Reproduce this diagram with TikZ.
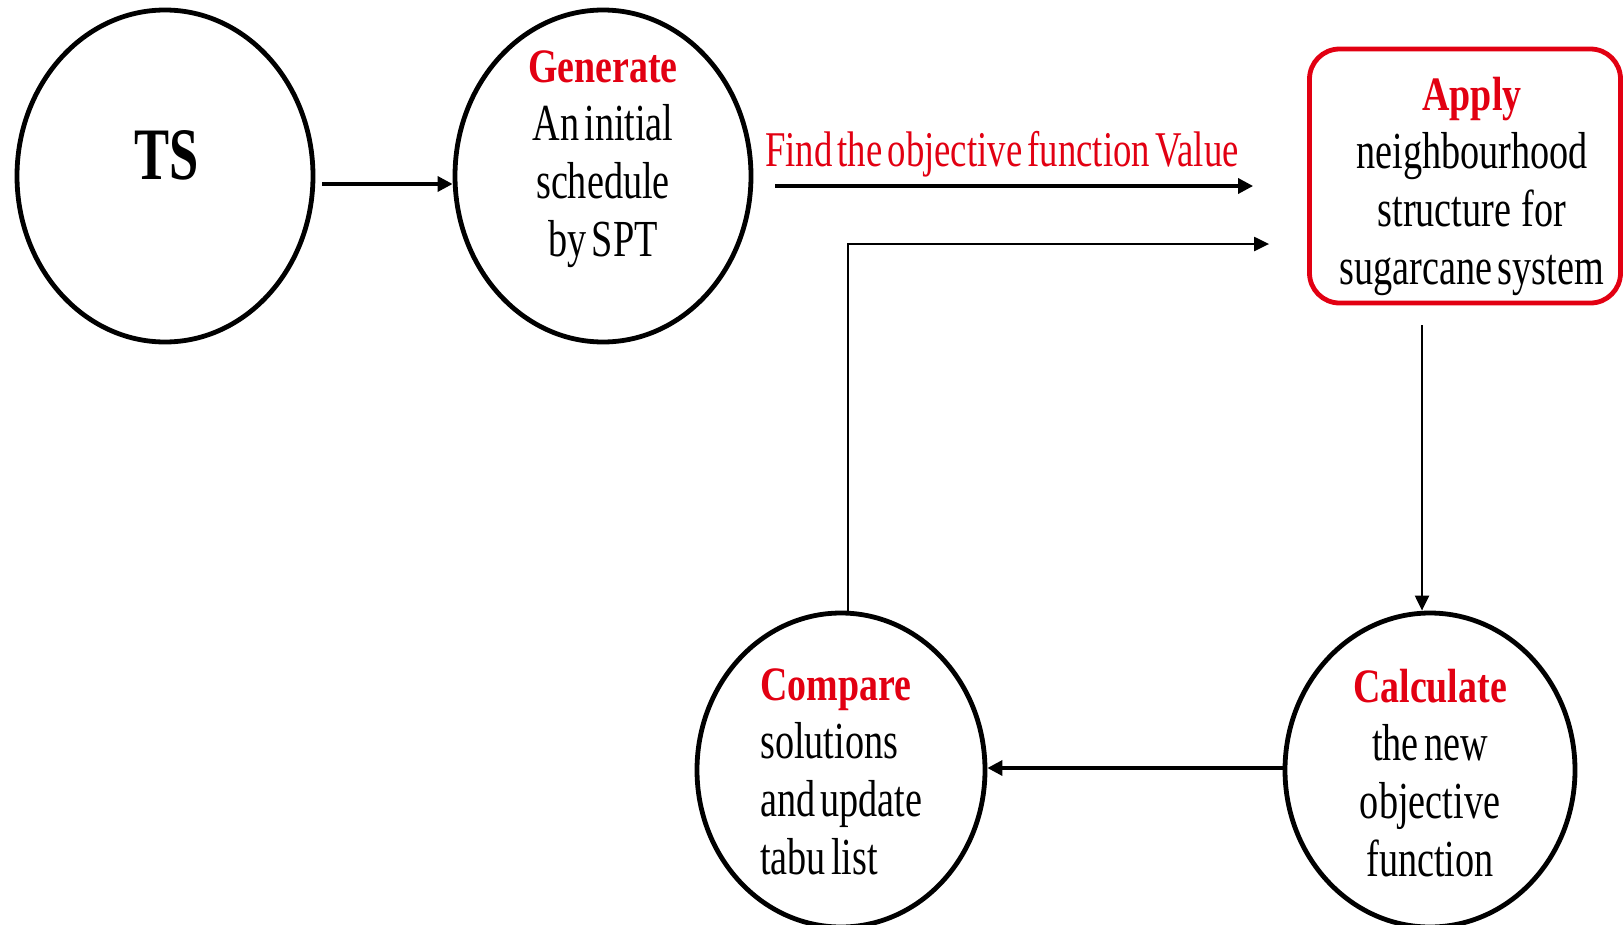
\documentclass[tikz,border=0pt]{standalone}
\usepackage{fontspec}
\usetikzlibrary{shapes.geometric,arrows.meta}
\newfontfamily\regfont[FakeStretch=0.735,WordSpace=0.55]{Liberation Serif}
\newfontfamily\hdfont[FakeStretch=0.79]{Liberation Serif}
\newfontfamily\tsfont[FakeStretch=0.71]{Liberation Serif}
\definecolor{hdred}{RGB}{226,0,18}
\newcommand{\hd}[1]{{\hdfont\bfseries\fontsize{48}{58}\selectfont\color{hdred}#1}}
\tikzset{
  stage/.style={draw=black, line width=4.8pt, ellipse, inner sep=0pt},
  applybox/.style={draw=hdred, line width=4.8pt, rounded corners=30pt, inner sep=0pt},
  txt/.style={inner sep=0pt, font=\regfont\fontsize{52}{58}\selectfont, text=black},
  arr/.style={line width=3.4pt, -{Triangle[length=15pt,width=15pt]}},
  thinarr/.style={line width=2.2pt, -{Triangle[length=15pt,width=14pt]}}
}
\begin{document}
\begin{tikzpicture}[x=1pt,y=-1pt]
\useasboundingbox (0,0) rectangle (1623,924);
% shapes
\node[stage, minimum width=296pt, minimum height=332pt] (ts) at (165,176) {};
\node[stage, minimum width=296pt, minimum height=332pt] (gen) at (603,176) {};
\node[applybox, minimum width=311pt, minimum height=254pt] (apply) at (1465,176) {};
\node[stage, minimum width=288pt, minimum height=314pt] (cmp) at (841,770) {};
\node[stage, minimum width=290pt, minimum height=314pt] (calc) at (1430,770) {};
% texts
\node[inner sep=0pt, font=\tsfont\bfseries\fontsize{74}{80}\selectfont] (tstxt) at (167,155) {TS};
\node[txt, align=center, anchor=north] (gentxt) at (603,51) {\hd{Generate}\\An initial\\schedule\\by SPT};
\node[txt, align=center, anchor=north] (applytxt) at (1472,77) {\hd{Apply}\\neighbourhood\\structure~ for\\sugarcane system};
\node[txt, align=left, anchor=north west] (cmptxt) at (760,669) {\hd{Compare}\\solutions\\and update\\tabu list};
\node[txt, align=center, anchor=north] (calctxt) at (1430,669) {\hd{Calculate}\\the new\\objective\\function};
\node[inner sep=0pt, anchor=base, font=\regfont\fontsize{50}{57}\selectfont, text=hdred] (findtxt) at (1002,166) {Find the objective function Value};
% connectors
\draw[arr] ([shift={(7pt,-8pt)}]ts.east) -- ([yshift=-8pt]gen.west);
\draw[arr] ([shift={(22pt,-10pt)}]gen.east) -- ([shift={(-54pt,-10pt)}]apply.west);
\draw[thinarr] ([xshift=7pt]cmp.north) |- ([shift={(-38pt,-68pt)}]apply.west);
\draw[thinarr] ([shift={(-43pt,-20pt)}]apply.south) -- ([xshift=-8pt]calc.north);
\draw[arr] ([yshift=2pt]calc.west) -- ([yshift=2pt]cmp.east);
\end{tikzpicture}
\end{document}
